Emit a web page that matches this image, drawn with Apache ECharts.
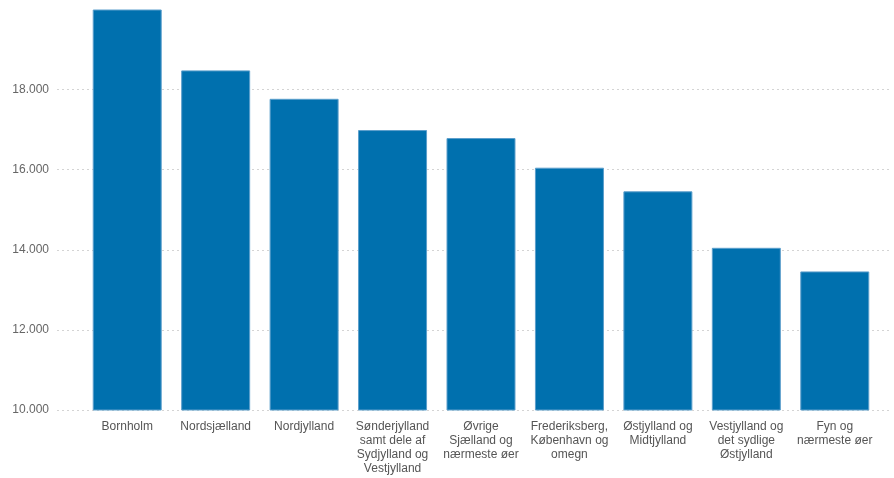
<!DOCTYPE html>
<html>
<head>
<meta charset="utf-8">
<script src="https://cdn.jsdelivr.net/npm/echarts@6/dist/echarts.min.js"></script>
<style>
html,body{margin:0;padding:0;background:#fff;}
#chart{width:894px;height:478px;}
</style>
</head>
<body>
<div id="chart"></div>
<script>
var categories = [
  'Bornholm',
  'Nordsjælland',
  'Nordjylland',
  'Sønderjylland\nsamt dele af\nSydjylland og\nVestjylland',
  'Øvrige\nSjælland og\nnærmeste øer',
  'Frederiksberg,\nKøbenhavn og\nomegn',
  'Østjylland og\nMidtjylland',
  'Vestjylland og\ndet sydlige\nØstjylland',
  'Fyn og\nnærmeste øer'
];
var values = [20000, 18480, 17770, 16990, 16790, 16050, 15460, 14050, 13460];
var yMin = 10000, yMax = 20000, yStep = 2000;

var chart = echarts.init(document.getElementById('chart'), null, {renderer: 'canvas'});
var fmt = function (v) { return String(v).replace(/\B(?=(\d{3})+(?!\d))/g, '.'); };
var font = 'Liberation Sans, Arial, sans-serif';

chart.setOption({
  animation: false,
  grid: [
    {left: 57, right: 4, top: 9.5, bottom: 68},
    {left: 83, right: 15, top: 9.5, bottom: 68}
  ],
  xAxis: [
    {gridIndex: 0, type: 'value', min: 0, max: 1, show: false},
    {
      gridIndex: 1, type: 'category', data: categories,
      axisLine: {show: false}, axisTick: {show: false},
      axisLabel: {
        interval: 0, margin: 10, color: '#555', fontSize: 12,
        fontFamily: font, lineHeight: 14, align: 'center'
      }
    }
  ],
  yAxis: [
    {
      gridIndex: 0, type: 'value', min: yMin, max: yMax, interval: yStep,
      axisLine: {show: false}, axisTick: {show: false},
      axisLabel: {
        formatter: fmt, color: '#666', fontSize: 12, fontFamily: font,
        margin: 8, showMaxLabel: false
      },
      splitLine: {
        show: true, showMaxLine: false,
        lineStyle: {color: '#d4d4d4', type: [2, 3], width: 1}
      }
    },
    {
      gridIndex: 1, type: 'value', min: yMin, max: yMax, interval: yStep,
      show: false, splitLine: {show: false}
    }
  ],
  series: [{
    type: 'bar',
    xAxisIndex: 1, yAxisIndex: 1,
    data: values,
    barCategoryGap: '22%',
    itemStyle: {color: '#0070ae', borderColor: '#5c9fcc', borderWidth: 1}
  }]
});
</script>
</body>
</html>
